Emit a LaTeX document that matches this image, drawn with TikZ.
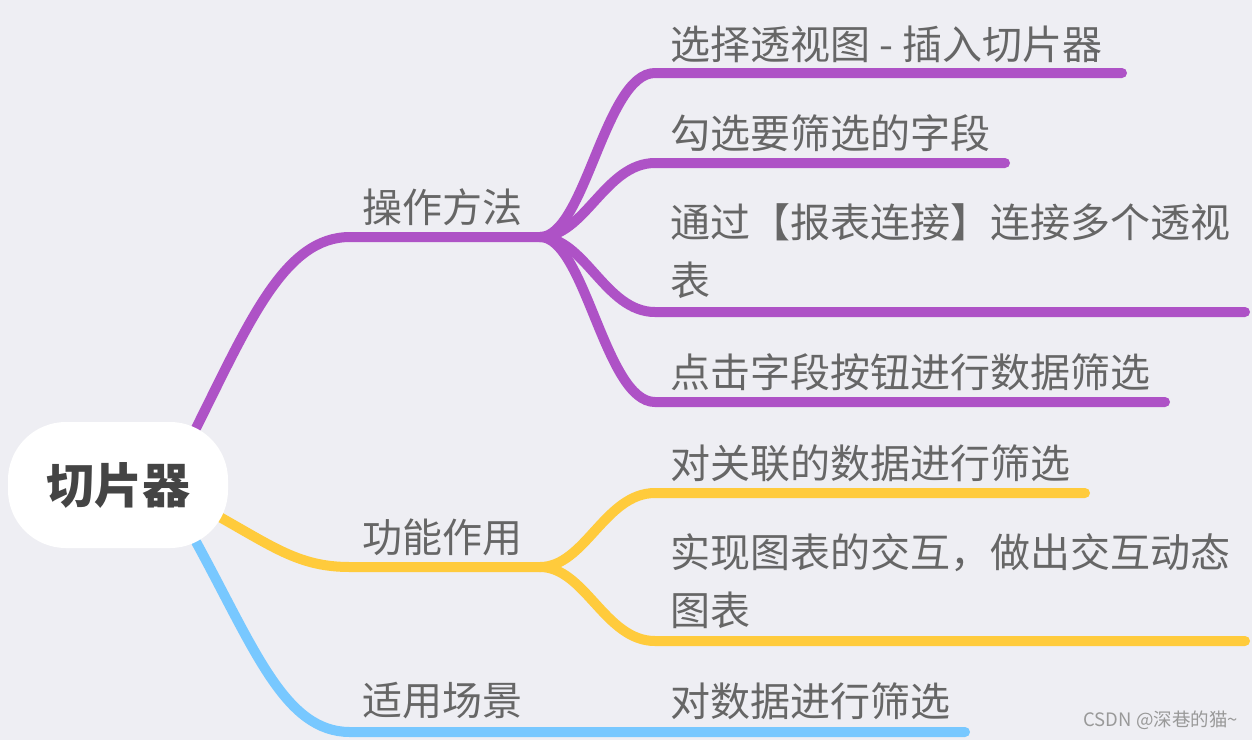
\documentclass[tikz,border=0pt]{standalone}
\usepackage{fontspec}
\setmainfont{Noto Sans CJK SC}
\usepackage{tikz}
\usetikzlibrary{calc,backgrounds}
\definecolor{bgc}{HTML}{EEEEF3}
\definecolor{purc}{HTML}{AE52C6}
\definecolor{yelc}{HTML}{FFCB3C}
\definecolor{bluc}{HTML}{78C8FF}
\definecolor{txtc}{HTML}{666666}
\definecolor{rootc}{HTML}{444444}
\tikzset{
  br/.style={line width=10pt,line cap=round},
  lbl/.style={anchor=west,inner sep=0pt,text=txtc,font=\fontsize{40}{58}\selectfont,align=left}
}

\begin{document}
\begin{tikzpicture}[x=1pt,y=-1pt]
\useasboundingbox (0,0) rectangle (1252,740);
\node[fill=white,rounded corners=58pt,minimum width=220pt,minimum height=126pt,text=rootc,font=\fontsize{48}{48}\selectfont\bfseries] (root) at (118,485) {切片器};
\coordinate (p0) at ($(root.north east)+(-32,6)$);
\coordinate (y0) at ($(root.east)+(-12,30)$);
\coordinate (b0) at ($(root.south east)+(-32,-6)$);
\coordinate (pm) at (350,237);
\coordinate (pj) at (540,237);
\coordinate (ym) at (350,567);
\coordinate (yj) at (540,567);
\coordinate (bm) at (350,732);
\coordinate (pa1) at (655,73);   \coordinate (pe1) at (1122,73);
\coordinate (pa2) at (655,163);  \coordinate (pe2) at (1005,163);
\coordinate (pa3) at (655,312);  \coordinate (pe3) at (1245,312);
\coordinate (pa4) at (655,402);  \coordinate (pe4) at (1165,402);
\coordinate (ya1) at (655,493);  \coordinate (ye1) at (1085,493);
\coordinate (ya2) at (655,641);  \coordinate (ye2) at (1245,641);
\coordinate (be) at (965,732);
\begin{scope}[on background layer]
\fill[bgc] (0,0) rectangle (1252,740);
\draw[br,purc] (p0) .. controls (250,320) and (285,237) .. (pm) -- (pj);
\draw[br,purc] (pj) .. controls (585,237) and (605,73) .. (pa1) -- (pe1);
\draw[br,purc] (pj) .. controls (585,237) and (605,163) .. (pa2) -- (pe2);
\draw[br,purc] (pj) .. controls (585,237) and (605,312) .. (pa3) -- (pe3);
\draw[br,purc] (pj) .. controls (585,237) and (605,402) .. (pa4) -- (pe4);
\draw[br,yelc] (y0) .. controls (275,548) and (300,567) .. (ym) -- (yj);
\draw[br,yelc] (yj) .. controls (585,567) and (605,493) .. (ya1) -- (ye1);
\draw[br,yelc] (yj) .. controls (585,567) and (605,641) .. (ya2) -- (ye2);
\draw[br,bluc] (b0) .. controls (255,650) and (285,732) .. (bm) -- (be);
\end{scope}
\node[lbl] (m1) at (362,207) {操作方法};
\node[lbl] (m2) at (362,537) {功能作用};
\node[lbl] (m3) at (362,701) {适用场景};
\node[lbl] (s1) at (670,44) {选择透视图 - 插入切片器};
\node[lbl] (s2) at (670,133) {勾选要筛选的字段};
\node[lbl] (s3) at (670,251) {通过【报表连接】连接多个透视\\表};
\node[lbl] (s4) at (670,372) {点击字段按钮进行数据筛选};
\node[lbl] (s5) at (670,463) {对关联的数据进行筛选};
\node[lbl] (s6) at (670,581) {实现图表的交互，做出交互动态\\图表};
\node[lbl] (s7) at (670,701) {对数据进行筛选};
\node[anchor=east,inner sep=0pt,text=black!40,font=\fontsize{18.5}{18.5}\selectfont] (wm) at (1238,720) {CSDN @深巷的猫\textasciitilde};
\end{tikzpicture}
\end{document}
